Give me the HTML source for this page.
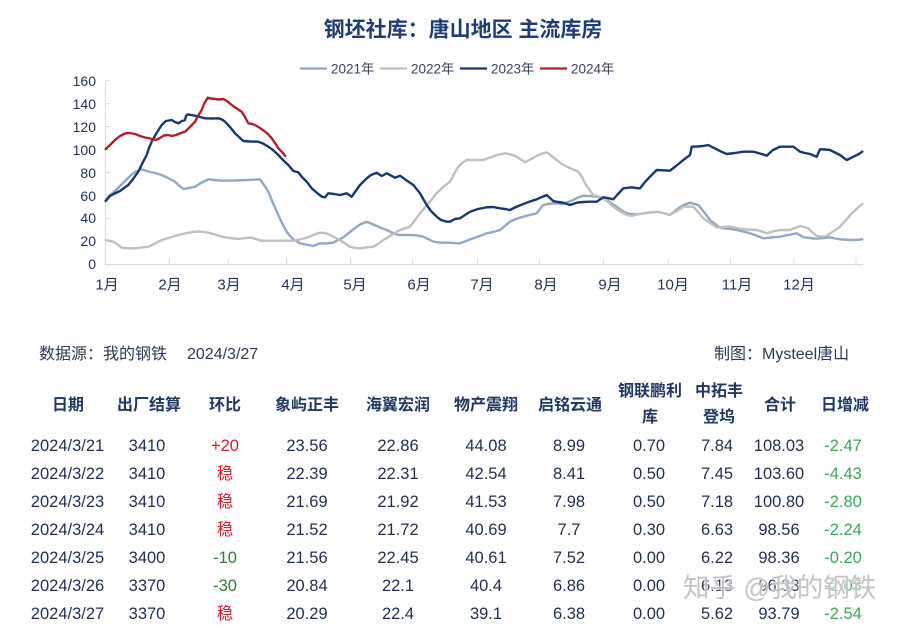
<!DOCTYPE html>
<html><head><meta charset="utf-8">
<style>
html,body{margin:0;padding:0;background:#fff;}
body{width:901px;height:629px;position:relative;overflow:hidden;font-family:"Liberation Sans","Noto Sans CJK SC",sans-serif;}
.c{position:absolute;transform:translate(-50%,-50%);white-space:nowrap;line-height:1;}
.l{position:absolute;transform:translateY(-50%);white-space:nowrap;line-height:1;}
.h{font-size:16px;font-weight:bold;color:#1f3864;}
.d{font-size:16.5px;color:#1f2f4f;}
.red{color:#d0202a;}
.g1{color:#2e7d32;}
.g2{color:#3aa65a;}
</style></head><body>
<svg width="901" height="300" style="position:absolute;left:0;top:0" xmlns="http://www.w3.org/2000/svg">
<g stroke="#d9d9d9" stroke-width="1" fill="none">
<line x1="105.5" y1="80" x2="105.5" y2="264.5"/>
<line x1="105" y1="264.5" x2="863" y2="264.5"/>
<path d="M105.5 241.4h5M105.5 218.4h5M105.5 195.5h5M105.5 172.5h5M105.5 149.6h5M105.5 126.6h5M105.5 103.7h5M105.5 80.7h5"/>
<path d="M169.3 258v6M228.3 258v6M286.7 258v6M350.7 258v6M412.7 258v6M477.3 258v6M539.3 258v6M603.3 258v6M668.3 258v6M730.7 258v6M794 258v6M856 258v6"/>
</g>
<g fill="none" stroke-width="2.4" stroke-linejoin="round" stroke-linecap="round">
<polyline stroke="#8fa9c4" points="105.7,200 110,195 115,191 120,186 125,181 130,176 135,172 141.7,169.3 148,171.5 155,173 161.7,175 168,178 175,181.7 179,185.5 183.3,189 189,188 195,186.7 201,183 208.3,179.3 215,180 221.7,180.7 235,180.5 248,180 260,179.3 264,185 268.3,191.7 273,203 278.3,215 282,223 286.7,231.7 290,236 294.3,240 300,243.3 306,244.5 313.3,246 320,243.3 326,243.5 333.3,242.7 338,240 343.3,237.3 350,232 356.7,226.7 361,224 366.7,221.7 371,223.5 376.7,226 381,228 386.7,230 392,232.5 398.3,235 404,235 410,235 417,235.5 423.3,236.7 428,239 433.3,241.7 440,242.5 446.7,242.7 450,242.7 455,243.2 460,243.3 466,241 473.3,238.3 480,236 486.7,233.3 493,232 500,230 505,226 510,221.7 516,219 523.3,216.7 530,215 536.7,213.3 540,209 543.3,205 548,204 553.3,203.3 558,203.5 563.3,204 568,202 573.3,200 578,197.5 583.3,195.7 590,196 596.7,196.7 601,197.5 606.7,199.3 611,203 616.7,206.7 621,210 626.7,213.3 631,214 636.7,214.3 646,213 656.7,211.7 663,213 670,215 676,210 683.3,205 690,202.7 698.3,205 704,212 710,220 715,224 720,227.7 726,228.5 733.3,229.3 741,231 750,233.3 756,235.5 763.3,238.3 771,237.5 780,236.7 788,235 796.7,233.3 803.3,237.3 810,238 816.7,238.7 823,238 830,237.3 835,238.5 840,239.3 850,240 856,240 862.3,239.3"/>
<polyline stroke="#bfbfbf" points="105.7,240 113.3,241.7 117,244 121.7,247.7 128,248.3 135,248.3 142,247.5 148.3,246.7 155,243.5 161.7,240 170,237.5 178.3,235 187,233 195,231.7 201,231.5 208.3,232.7 215,234.5 221.7,236.7 230,238 238.3,239 245,238 251.7,237.7 256,239 261.7,240.7 275,240.7 293,240.7 300,239.5 306.7,237.7 313,235 320,232.7 325,233 330,235 335,237.5 340,240 345,243.5 350,246.7 355,248 360,248.3 366,247.5 373.3,246.7 378,244 383.3,240 390,236 396.7,231.7 403,229 410,226.7 415,220 420,213.3 425,207.5 430,201.7 436,194 443.3,186.7 450,181.7 454,174 458.3,166.7 462,163 466.7,160 475,160 483.3,160 490,157.5 496.7,155 505,153.3 511,154.5 516.7,156.7 521,159.5 525,162.3 531,159 536.7,156 541,154 546.7,152.3 551,155.5 556.7,160 561,163.5 566.7,166.7 572,169 578.3,171.7 582,177 585,183.3 589,189 593.3,195 598,196.5 603.3,198.3 608,202 613.3,206.7 618,210 623.3,213.3 627,215 631.7,216 637,214.5 643.3,213.3 650,212.5 656.7,211.7 663,213 670,215 677,211 683.3,206.7 688,206.5 693.3,206.7 698,212 703.3,218.3 710,223 716.7,227.3 723,227 730,226.7 737,228 743.3,229.3 750,229.5 756.7,230 762,231.5 766.7,233.3 773,231.5 780,230 790,230 795,228 800,226 804,227 808.3,228.3 812,232 816.7,236 822,236.5 826.7,236 833,231.5 840,226.7 846,220 851.7,213.3 857,208.5 862.3,204"/>
<polyline stroke="#17386e" points="105.7,201 110,196 115,193.3 120,191 124,188 128.3,185 133,179 138.3,171.7 142,164 146.7,155 149,148 151.7,141.7 156,134 161.7,125 166,121 171.7,120 175,122 178.3,123.3 182,121 185,120 186,116 187.7,114.3 191,115 195,115.7 200,117 205,118.3 212,118.5 218.3,118.3 222,119.5 225,121.7 230,127 235,133.3 239,137 243.3,141 250,141.5 258.3,141.7 263,143.5 268.3,146.7 273,150 278.3,155 283,160 288.3,165 293.3,171 298.3,172.3 302,177 306.7,181.7 311.7,188.3 316,192 321.7,196.7 325,197.3 328.3,193.3 334,194 340,195 346.7,193.3 351.7,196.7 355,192 360,185 366.7,178.3 371,175 376.7,172.7 381.7,176 386.7,173.3 391,175.5 395,177.7 400,175.7 406,180 413.3,185 420,193.3 426.7,205 431,211 436.7,216.7 441,220 446.7,221.7 450,221.7 455,219 460,218.3 465,215 470,211.7 478,209 486.7,207.3 493,207 500,208.3 505,209 510,210 516,207 523.3,204 530,201.5 536.7,199.3 542,197 546.7,195 550,198 553.3,201 558,202 563.3,202.7 570,205 576.7,202.7 583,202 590,201.7 596.7,201.7 600,199.5 603.3,197.3 608,198 613.3,199.3 618,194 623.3,188.3 631.7,187.3 636,188 640,188.3 645,182 650,176.7 656.7,170 663,170.3 670,170.7 676,166 683.3,160 690,155 691.7,146.7 697,146.5 703.3,146 708.3,145 712,147 716.7,149.3 721,151.5 726.7,154 735,153 743.3,151.7 753.3,151.7 760,153.5 766.7,155.7 773,150 780,146.7 787,146.7 793.3,146.7 800,151.7 805,153 810,154 816.7,156.7 820,149.3 825,149.5 830,150 835,152.5 840,155 846.7,160 850,158.5 853.3,156.7 858,154.5 862.3,151.7"/>
<polyline stroke="#b41e28" points="105.7,149 110,145 115,140 120,136 125,133.5 130,133 135,134 140,136 145,137.5 148,138 152,139 156,140 160,138 164,135.5 168,135 172,136 176,135 181,133 185,131.7 190,127 195,121.7 198,116 201.7,110 204,104 207.7,97.7 211,98.5 215,99 219,99.5 223.3,99 227,101 231.7,105 236,108 241.7,111.7 245,117 248.3,123.3 252,124 255,125 260,128 265,131.7 268,134 271.7,138.3 275,143 278.3,148.3 282,152 285.3,156"/>
</g>
<g stroke-width="2.3">
<line x1="300" y1="68.5" x2="327" y2="68.5" stroke="#8fa9c4"/>
<line x1="380" y1="68.5" x2="407" y2="68.5" stroke="#bfbfbf"/>
<line x1="460" y1="68.5" x2="487" y2="68.5" stroke="#17386e"/>
<line x1="540" y1="68.5" x2="567" y2="68.5" stroke="#b41e28"/>
</g>
</svg>

<div class="c" style="left:463px;top:30px;font-size:21px;font-weight:bold;color:#1f3d73;">钢坯社库：唐山地区 主流库房</div>

<div class="l" style="left:331px;top:69px;font-size:13.5px;color:#3a4556;">2021年</div>
<div class="l" style="left:411px;top:69px;font-size:13.5px;color:#3a4556;">2022年</div>
<div class="l" style="left:491px;top:69px;font-size:13.5px;color:#3a4556;">2023年</div>
<div class="l" style="left:571px;top:69px;font-size:13.5px;color:#3a4556;">2024年</div>

<div style="position:absolute;left:50px;width:46px;top:0;font-size:14px;color:#1f3050;">
<div class="l" style="right:0;top:80.7px;">160</div>
<div class="l" style="right:0;top:103.7px;">140</div>
<div class="l" style="right:0;top:126.6px;">120</div>
<div class="l" style="right:0;top:149.6px;">100</div>
<div class="l" style="right:0;top:172.5px;">80</div>
<div class="l" style="right:0;top:195.5px;">60</div>
<div class="l" style="right:0;top:218.4px;">40</div>
<div class="l" style="right:0;top:241.4px;">20</div>
<div class="l" style="right:0;top:264.3px;">0</div>
</div>

<div style="font-size:15px;color:#1f3050;">
<div class="c" style="left:107px;top:285px;">1月</div>
<div class="c" style="left:170px;top:285px;">2月</div>
<div class="c" style="left:229px;top:285px;">3月</div>
<div class="c" style="left:293px;top:285px;">4月</div>
<div class="c" style="left:355px;top:285px;">5月</div>
<div class="c" style="left:419px;top:285px;">6月</div>
<div class="c" style="left:482px;top:285px;">7月</div>
<div class="c" style="left:546px;top:285px;">8月</div>
<div class="c" style="left:610px;top:285px;">9月</div>
<div class="c" style="left:673px;top:285px;">10月</div>
<div class="c" style="left:737px;top:285px;">11月</div>
<div class="c" style="left:799px;top:285px;">12月</div>
</div>

<div class="l" style="left:39px;top:355px;font-size:16px;color:#2b3a55;">数据源：我的钢铁</div>
<div class="l" style="left:187px;top:355px;font-size:16px;color:#2b3a55;">2024/3/27</div>
<div class="l" style="left:714px;top:355px;font-size:16px;color:#2b3a55;">制图：Mysteel唐山</div>

<div class="h">
<div class="c" style="left:68px;top:406px;">日期</div>
<div class="c" style="left:149px;top:406px;">出厂结算</div>
<div class="c" style="left:225px;top:406px;">环比</div>
<div class="c" style="left:307px;top:406px;">象屿正丰</div>
<div class="c" style="left:398px;top:406px;">海翼宏润</div>
<div class="c" style="left:486px;top:406px;">物产震翔</div>
<div class="c" style="left:570px;top:406px;">启铭云通</div>
<div class="c" style="left:650px;top:392px;">钢联鹏利</div>
<div class="c" style="left:650px;top:418px;">库</div>
<div class="c" style="left:719px;top:392px;">中拓丰</div>
<div class="c" style="left:719px;top:418px;">登坞</div>
<div class="c" style="left:780px;top:406px;">合计</div>
<div class="c" style="left:845px;top:406px;">日增减</div>
</div>

<div class="d">
<div class="c" style="left:67.5px;top:446px;">2024/3/21</div><div class="c" style="left:147px;top:446px;">3410</div><div class="c red" style="left:225px;top:446px;">+20</div><div class="c" style="left:307px;top:446px;">23.56</div><div class="c" style="left:398px;top:446px;">22.86</div><div class="c" style="left:486px;top:446px;">44.08</div><div class="c" style="left:569px;top:446px;">8.99</div><div class="c" style="left:649px;top:446px;">0.70</div><div class="c" style="left:717px;top:446px;">7.84</div><div class="c" style="left:779px;top:446px;">108.03</div><div class="c g2" style="left:843px;top:446px;">-2.47</div>

<div class="c" style="left:67.5px;top:474px;">2024/3/22</div><div class="c" style="left:147px;top:474px;">3410</div><div class="c red" style="left:225px;top:474px;">稳</div><div class="c" style="left:307px;top:474px;">22.39</div><div class="c" style="left:398px;top:474px;">22.31</div><div class="c" style="left:486px;top:474px;">42.54</div><div class="c" style="left:569px;top:474px;">8.41</div><div class="c" style="left:649px;top:474px;">0.50</div><div class="c" style="left:717px;top:474px;">7.45</div><div class="c" style="left:779px;top:474px;">103.60</div><div class="c g2" style="left:843px;top:474px;">-4.43</div>

<div class="c" style="left:67.5px;top:502px;">2024/3/23</div><div class="c" style="left:147px;top:502px;">3410</div><div class="c red" style="left:225px;top:502px;">稳</div><div class="c" style="left:307px;top:502px;">21.69</div><div class="c" style="left:398px;top:502px;">21.92</div><div class="c" style="left:486px;top:502px;">41.53</div><div class="c" style="left:569px;top:502px;">7.98</div><div class="c" style="left:649px;top:502px;">0.50</div><div class="c" style="left:717px;top:502px;">7.18</div><div class="c" style="left:779px;top:502px;">100.80</div><div class="c g2" style="left:843px;top:502px;">-2.80</div>

<div class="c" style="left:67.5px;top:530px;">2024/3/24</div><div class="c" style="left:147px;top:530px;">3410</div><div class="c red" style="left:225px;top:530px;">稳</div><div class="c" style="left:307px;top:530px;">21.52</div><div class="c" style="left:398px;top:530px;">21.72</div><div class="c" style="left:486px;top:530px;">40.69</div><div class="c" style="left:569px;top:530px;">7.7</div><div class="c" style="left:649px;top:530px;">0.30</div><div class="c" style="left:717px;top:530px;">6.63</div><div class="c" style="left:779px;top:530px;">98.56</div><div class="c g2" style="left:843px;top:530px;">-2.24</div>

<div class="c" style="left:67.5px;top:558px;">2024/3/25</div><div class="c" style="left:147px;top:558px;">3400</div><div class="c g1" style="left:225px;top:558px;">-10</div><div class="c" style="left:307px;top:558px;">21.56</div><div class="c" style="left:398px;top:558px;">22.45</div><div class="c" style="left:486px;top:558px;">40.61</div><div class="c" style="left:569px;top:558px;">7.52</div><div class="c" style="left:649px;top:558px;">0.00</div><div class="c" style="left:717px;top:558px;">6.22</div><div class="c" style="left:779px;top:558px;">98.36</div><div class="c g2" style="left:843px;top:558px;">-0.20</div>

<div class="c" style="left:67.5px;top:586px;">2024/3/26</div><div class="c" style="left:147px;top:586px;">3370</div><div class="c g1" style="left:225px;top:586px;">-30</div><div class="c" style="left:307px;top:586px;">20.84</div><div class="c" style="left:398px;top:586px;">22.1</div><div class="c" style="left:486px;top:586px;">40.4</div><div class="c" style="left:569px;top:586px;">6.86</div><div class="c" style="left:649px;top:586px;">0.00</div><div class="c" style="left:717px;top:586px;">6.13</div><div class="c" style="left:779px;top:586px;">96.33</div><div class="c g2" style="left:843px;top:586px;">-2.03</div>

<div class="c" style="left:67.5px;top:614px;">2024/3/27</div><div class="c" style="left:147px;top:614px;">3370</div><div class="c red" style="left:225px;top:614px;">稳</div><div class="c" style="left:307px;top:614px;">20.29</div><div class="c" style="left:398px;top:614px;">22.4</div><div class="c" style="left:486px;top:614px;">39.1</div><div class="c" style="left:569px;top:614px;">6.38</div><div class="c" style="left:649px;top:614px;">0.00</div><div class="c" style="left:717px;top:614px;">5.62</div><div class="c" style="left:779px;top:614px;">93.79</div><div class="c g2" style="left:843px;top:614px;">-2.54</div>
</div>

<div class="l" style="left:683px;top:588px;font-size:26.5px;color:rgba(185,185,185,0.85);text-shadow:0 0 2px #fff,0 0 2px #fff;">知乎 @我的钢铁</div>
</body></html>
